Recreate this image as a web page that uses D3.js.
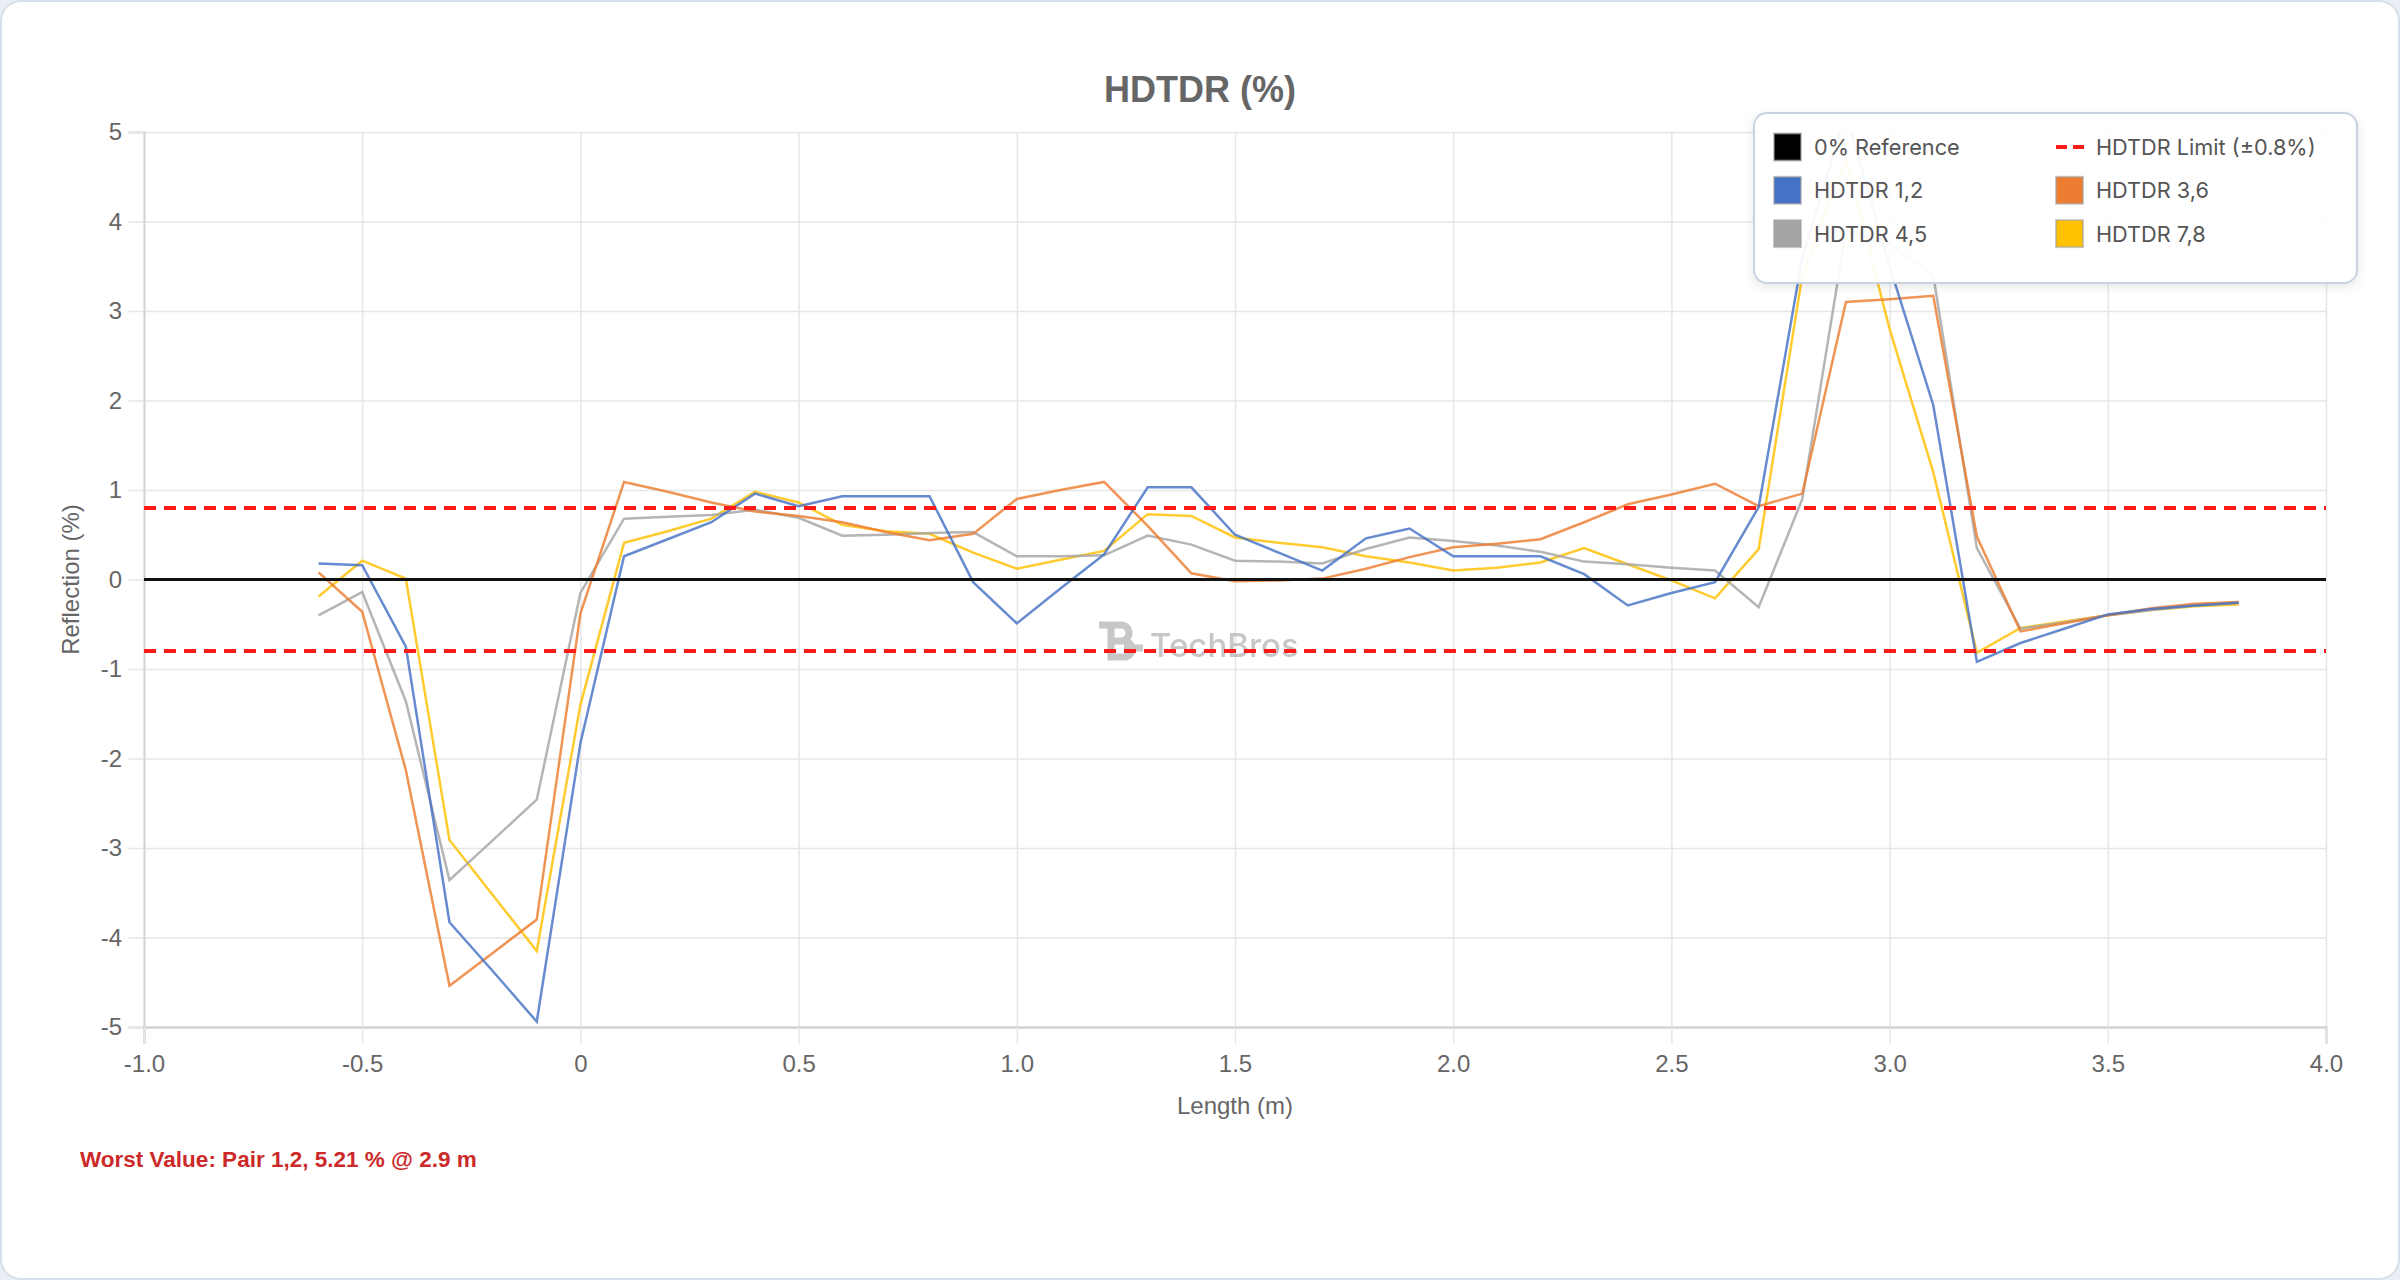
<!DOCTYPE html>
<html><head><meta charset="utf-8">
<script src="https://cdn.jsdelivr.net/npm/d3@7"></script>
<style>
html,body{margin:0;padding:0;background:#e9eef5;}
svg{display:block;}
</style></head><body>
<svg id="chart" width="2400" height="1280"></svg>
<script>
// ---------- data ----------
const lengths = [-0.6,-0.5,-0.4,-0.3,-0.2,-0.1,0.0,0.1,0.2,0.3,0.4,0.5,0.6,0.7,0.8,0.9,1.0,1.1,1.2,1.3,1.4,1.5,1.6,1.7,1.8,1.9,2.0,2.1,2.2,2.3,2.4,2.5,2.6,2.7,2.8,2.9,3.0,3.1,3.2,3.3,3.4,3.5,3.6,3.7,3.8];
const pair12 = [0.18,0.16,-0.75,-3.83,-4.38,-4.94,-1.83, 0.26,0.45,0.64,0.96,0.82,0.93,0.93,0.93,-0.03,-0.49, -0.10,0.28,1.03,1.03,0.50,0.30,0.10,0.46,0.57,0.26, 0.26,0.26,0.06,-0.29,-0.15,-0.03,0.81,3.6,5.21,3.5, 1.95,-0.92,-0.71,-0.55,-0.39,-0.33,-0.29,-0.26];
const pair36 = [0.08,-0.36,-2.13,-4.54,-4.17,-3.80,-0.38, 1.09,0.98,0.86,0.76,0.71,0.64,0.53,0.44,0.51,0.90, 1.00,1.09,0.60,0.07,-0.02,-0.01,0.01,0.12,0.25,0.36, 0.40,0.45,0.64,0.84,0.95,1.07,0.82,0.96,3.10,3.13, 3.17,0.48,-0.58,-0.49,-0.40,-0.32,-0.27,-0.25];
const pair45 = [-0.40,-0.14,-1.36,-3.36,-2.91,-2.46,-0.15, 0.68,0.70,0.72,0.78,0.69,0.49,0.50,0.52,0.53,0.26, 0.26,0.27,0.49,0.39,0.21,0.20,0.18,0.34,0.47,0.43, 0.38,0.31,0.20,0.17,0.13,0.10,-0.31,0.90,3.9,3.75, 3.4,0.35,-0.55,-0.48,-0.40,-0.34,-0.29,-0.26];
const pair78 = [-0.19,0.21,0.01,-2.91,-3.53,-4.15,-1.40, 0.41,0.54,0.68,0.98,0.86,0.61,0.54,0.51,0.30,0.12, 0.22,0.32,0.73,0.71,0.47,0.41,0.36,0.26,0.19,0.10, 0.13,0.19,0.35,0.17,-0.01,-0.21,0.34,3.4,4.7,2.8, 1.2,-0.82,-0.54,-0.47,-0.40,-0.34,-0.30,-0.28];
const seriesNames = ["HDTDR 1,2","HDTDR 3,6","HDTDR 4,5","HDTDR 7,8"];
const seriesColors = ["#4472C4","#ED7D31","#A5A5A5","#FFC000"];
const limitValue = 0.8;
const referenceValue = 0;
const xTicks = [-1.0,-0.5,0,0.5,1.0,1.5,2.0,2.5,3.0,3.5,4.0];
const xTickLabels = ["-1.0","-0.5","0","0.5","1.0","1.5","2.0","2.5","3.0","3.5","4.0"];
const yTicks = [-5,-4,-3,-2,-1,0,1,2,3,4,5];
const yTickLabels = ["-5","-4","-3","-2","-1","0","1","2","3","4","5"];
const titleText = "HDTDR (%)";
const xTitle = "Length (m)";
const yTitle = "Reflection (%)";
const worstText = "Worst Value: Pair 1,2, 5.21 % @ 2.9 m";
const legendItems = [
  {label:"0% Reference", color:"#000000", type:"box"},
  {label:"HDTDR Limit (±0.8%)", color:"#ff1a1a", type:"dash"},
  {label:"HDTDR 1,2", color:"#4472C4", type:"box"},
  {label:"HDTDR 3,6", color:"#ED7D31", type:"box"},
  {label:"HDTDR 4,5", color:"#A5A5A5", type:"box"},
  {label:"HDTDR 7,8", color:"#FFC000", type:"box"}
];

// ---------- layout ----------
const svg = d3.select("#chart");
const W = 2400, H = 1280;
const L = 144, R = 2326, T = 132, B = 1027;
const x = d3.scaleLinear().domain([-1, 4]).range([L, R]);
const y = d3.scaleLinear().domain([-5, 5]).range([B, T]);
const tickFont = "'Liberation Sans', Arial, Helvetica, sans-serif";

const defs = svg.append("defs");
defs.append("clipPath").attr("id","plotclip").append("rect")
  .attr("x",L).attr("y",T).attr("width",R-L).attr("height",B-T);
const sh = defs.append("filter").attr("id","shadow").attr("x","-10%").attr("y","-20%").attr("width","120%").attr("height","150%");
sh.append("feDropShadow").attr("dx",0).attr("dy",3).attr("stdDeviation",5).attr("flood-color","#000").attr("flood-opacity",0.10);

// card
svg.append("rect").attr("x",1).attr("y",1).attr("width",W-2).attr("height",H-2)
  .attr("rx",20).attr("fill","#ffffff").attr("stroke","#d6deea").attr("stroke-width",2);

// title
svg.append("text").attr("x",1200).attr("y",89).attr("text-anchor","middle")
  .attr("dominant-baseline","central").attr("font-family",tickFont)
  .attr("font-weight","bold").attr("font-size",36).attr("fill","#666").text(titleText);

// grid via axes
const yGrid = svg.append("g").attr("transform",`translate(${L},0)`)
  .call(d3.axisLeft(y).tickValues(yTicks).tickSize(-(R-L)).tickFormat(""));
yGrid.select(".domain").remove();
yGrid.selectAll("line").attr("stroke","#e6e6e6").attr("stroke-width",1.5);
const xGrid = svg.append("g").attr("transform",`translate(0,${B})`)
  .call(d3.axisBottom(x).tickValues(xTicks).tickSize(-(B-T)).tickFormat(""));
xGrid.select(".domain").remove();
xGrid.selectAll("line").attr("stroke","#e6e6e6").attr("stroke-width",1.5);

// axes with tick marks and labels
const yAxis = svg.append("g").attr("transform",`translate(${L},0)`)
  .call(d3.axisLeft(y).tickValues(yTicks).tickSize(16).tickPadding(6)
    .tickFormat((d,i)=>yTickLabels[i]));
yAxis.select(".domain").attr("stroke","#d4d4d4").attr("stroke-width",2);
yAxis.selectAll(".tick line").attr("stroke","#e6e6e6").attr("stroke-width",1.5);
yAxis.selectAll("text").attr("font-family",tickFont).attr("font-size",24).attr("fill","#666");

const xAxis = svg.append("g").attr("transform",`translate(0,${B})`)
  .call(d3.axisBottom(x).tickValues(xTicks).tickSize(17).tickPadding(11)
    .tickFormat((d,i)=>xTickLabels[i]));
xAxis.select(".domain").attr("stroke","#d4d4d4").attr("stroke-width",2.5);
xAxis.selectAll(".tick line").attr("stroke","#e6e6e6").attr("stroke-width",1.5);
xAxis.selectAll("text").attr("font-family",tickFont).attr("font-size",24).attr("fill","#666");

// axis titles
svg.append("text").attr("x",(L+R)/2).attr("y",1105).attr("text-anchor","middle")
  .attr("dominant-baseline","central").attr("font-family",tickFont).attr("font-size",24)
  .attr("fill","#666").text(xTitle);
svg.append("text").attr("transform",`translate(70,${(T+B)/2}) rotate(-90)`).attr("text-anchor","middle")
  .attr("dominant-baseline","central").attr("font-family",tickFont).attr("font-size",24)
  .attr("fill","#666").text(yTitle);

// watermark
const wm = svg.append("g").attr("opacity",0.55);
wm.append("path").attr("transform","translate(1099,621)")
  .attr("d","M0,4 H22 A8,8 0 0 1 22,20 H12 M12,4 V36 H25 A8,8 0 0 0 25,20 H12 M25,27 H44")
  .attr("fill","none").attr("stroke","#9a9a9a").attr("stroke-width",7);
wm.append("text").attr("x",1150).attr("y",657).attr("font-family","Inter, 'Open Sans', sans-serif")
  .attr("font-size",33).attr("font-weight",500).attr("fill","#9a9a9a").text("TechBros");

// series lines
const plot = svg.append("g").attr("clip-path","url(#plotclip)");
const allSeries = [pair12, pair36, pair45, pair78];
const line = d3.line().x((d,i)=>x(lengths[i])).y(d=>y(d));
for (let s = allSeries.length-1; s >= 0; s--) {
  plot.append("path").datum(allSeries[s]).attr("d",line)
    .attr("fill","none").attr("stroke",seriesColors[s]).attr("stroke-width",2.5)
    .attr("stroke-opacity",0.82).attr("stroke-linejoin","miter");
}
// limit lines
[limitValue, -limitValue].forEach(v=>{
  plot.append("line").attr("x1",x(-1)).attr("x2",x(4)).attr("y1",y(v)).attr("y2",y(v))
    .attr("stroke","#ff1a1a").attr("stroke-width",4).attr("stroke-dasharray","12 8");
});
// reference line
plot.append("line").attr("x1",x(-1)).attr("x2",x(4)).attr("y1",y(referenceValue)).attr("y2",y(referenceValue))
  .attr("stroke","#111").attr("stroke-width",3);

// legend
const lg = svg.append("g");
lg.append("rect").attr("x",1754).attr("y",113).attr("width",603).attr("height",170).attr("rx",13)
  .attr("fill","rgba(255,255,255,0.94)").attr("stroke","#c9d3e1").attr("stroke-width",2)
  .attr("filter","url(#shadow)");
legendItems.forEach((it,i)=>{
  const col = i%2, row = Math.floor(i/2);
  const bx = col===0 ? 1774 : 2056;
  const cy = 147 + row*43.3;
  if (it.type==="box") {
    lg.append("rect").attr("x",bx).attr("y",cy-13.5).attr("width",27).attr("height",27)
      .attr("fill",it.color).attr("stroke","rgba(160,160,160,0.55)").attr("stroke-width",2);
  } else {
    lg.append("line").attr("x1",bx).attr("x2",bx+29).attr("y1",cy).attr("y2",cy)
      .attr("stroke",it.color).attr("stroke-width",4).attr("stroke-dasharray","11 6");
  }
  lg.append("text").attr("x",bx+40).attr("y",cy).attr("dominant-baseline","central")
    .attr("font-family","Inter, 'Open Sans', sans-serif").attr("font-size",21.7).attr("fill","#555")
    .text(it.label);
});

// worst value
svg.append("text").attr("x",80).attr("y",1159).attr("dominant-baseline","central")
  .attr("font-family",tickFont).attr("font-weight","bold").attr("font-size",22.5)
  .attr("fill","#cc2a2a").text(worstText);
</script>
</body></html>
